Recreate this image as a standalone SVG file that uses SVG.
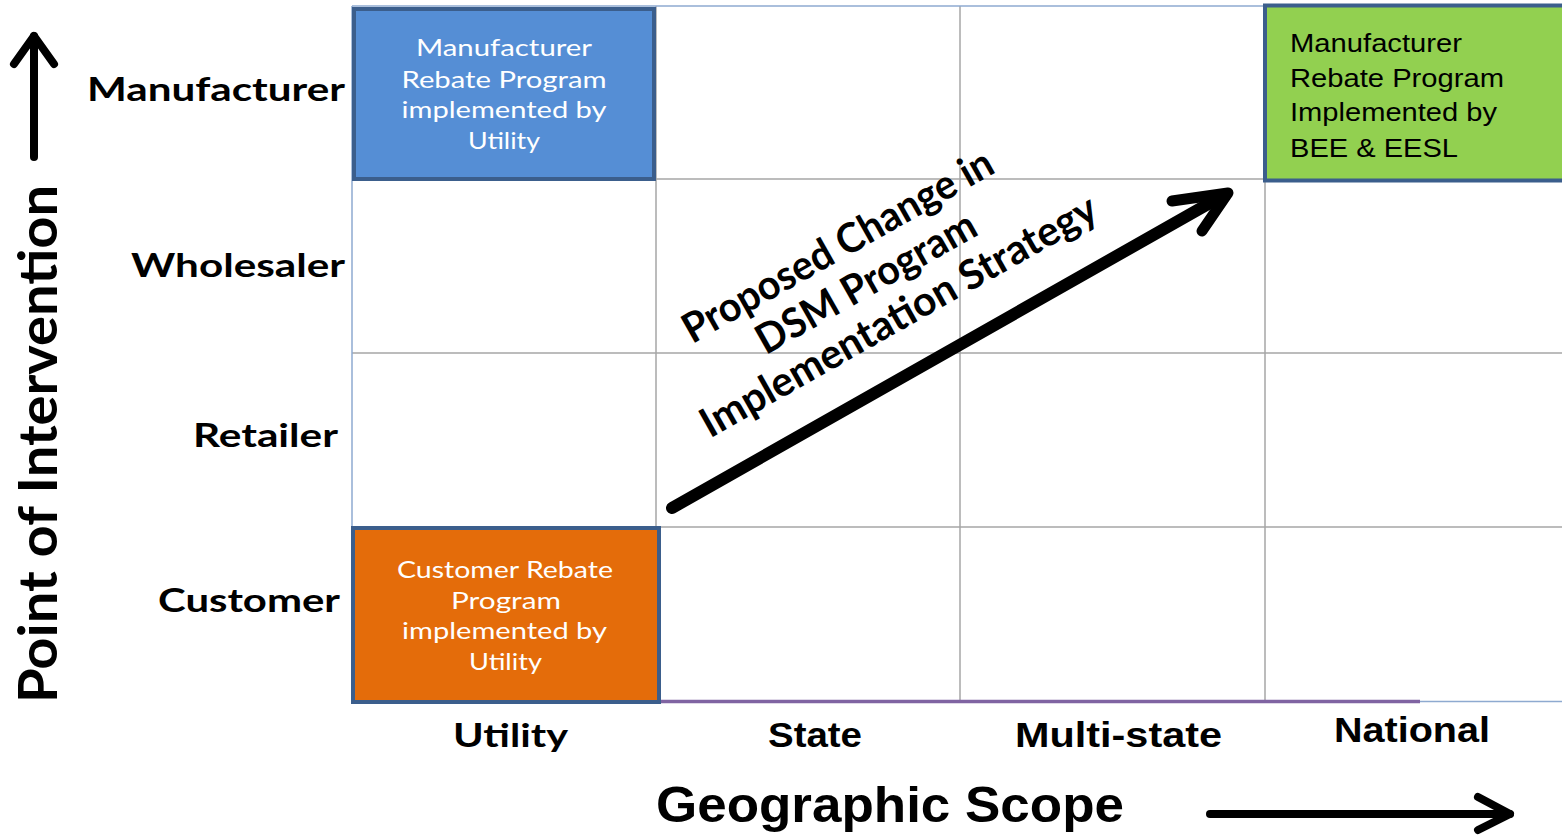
<svg xmlns="http://www.w3.org/2000/svg" width="1562" height="835" viewBox="0 0 1562 835">
  <style>
    .grid { stroke: #a6a6a6; stroke-width: 1.5; fill: none; }
    .edge { stroke: #8eaad0; stroke-width: 1.5; fill: none; }
    .box { stroke: #3b5e8c; stroke-width: 4; }
    .axis-lbl { font-family: Lato, "Open Sans", sans-serif; font-weight: 700; font-size: 32px; fill: #000; }
    .narrow { font-family: "Liberation Sans Narrow", "Liberation Sans", sans-serif; font-weight: 700; font-size: 35px; fill: #000; }
    .box-txt { font-family: Lato, "Open Sans", sans-serif; font-size: 23px; fill: #fff; text-anchor: middle; }
    .box-txt-dark { font-family: "Liberation Sans", Arial, sans-serif; font-size: 26.5px; fill: #000; }
    .diag { font-family: Lato, "Open Sans", sans-serif; font-weight: 700; font-size: 41px; fill: #000; text-anchor: middle; }
    .arrow { stroke: #000; fill: none; stroke-linecap: round; stroke-linejoin: round; }
  </style>

  <rect width="1562" height="835" fill="#fff"/>

  <!-- matrix grid -->
  <g id="grid">
    <line class="grid" x1="656" y1="6" x2="656" y2="701"/>
    <line class="grid" x1="960" y1="6" x2="960" y2="701"/>
    <line class="grid" x1="1265" y1="6" x2="1265" y2="701"/>
    <line class="grid" x1="352" y1="179" x2="1562" y2="179"/>
    <line class="grid" x1="352" y1="353" x2="1562" y2="353"/>
    <line class="grid" x1="352" y1="527" x2="1562" y2="527"/>
    <line class="edge" x1="352" y1="6" x2="1265" y2="6"/>
    <line class="edge" x1="352" y1="6" x2="352" y2="701"/>
    <line class="edge" x1="1420" y1="701.5" x2="1562" y2="701.5"/>
    <line x1="660" y1="701.5" x2="1420" y2="701.5" stroke="#8064a2" stroke-width="3.5"/>
  </g>

  <!-- row labels -->
  <g id="row-labels" text-anchor="end">
    <text class="axis-lbl" x="345" y="101" textLength="258" lengthAdjust="spacingAndGlyphs">Manufacturer</text>
    <text class="axis-lbl" x="345" y="277" textLength="214" lengthAdjust="spacingAndGlyphs">Wholesaler</text>
    <text class="axis-lbl" x="338" y="447" textLength="145" lengthAdjust="spacingAndGlyphs">Retailer</text>
    <text class="axis-lbl" x="340" y="612" textLength="182" lengthAdjust="spacingAndGlyphs">Customer</text>
  </g>

  <!-- column labels -->
  <g id="col-labels">
    <text class="axis-lbl" x="453" y="747" textLength="115" lengthAdjust="spacingAndGlyphs">Utility</text>
    <text class="narrow" x="768" y="747" textLength="94" lengthAdjust="spacingAndGlyphs">State</text>
    <text class="narrow" x="1015" y="747" textLength="207" lengthAdjust="spacingAndGlyphs">Multi-state</text>
    <text class="narrow" x="1334" y="742" textLength="156" lengthAdjust="spacingAndGlyphs">National</text>
  </g>

  <!-- axis titles -->
  <g id="y-axis-title">
    <text transform="translate(57,703) rotate(-90)" x="0" y="0" font-family="Lato, 'Open Sans', sans-serif" font-weight="700" font-size="54" textLength="518" lengthAdjust="spacingAndGlyphs">Point of Intervention</text>
  </g>
  <g id="x-axis-title">
    <text x="656" y="822" font-family="'Liberation Sans', Arial, sans-serif" font-weight="700" font-size="50" textLength="468" lengthAdjust="spacingAndGlyphs">Geographic Scope</text>
  </g>

  <!-- highlighted cells -->
  <g id="node-manufacturer-utility">
    <rect class="box" x="354" y="9" width="300" height="170" fill="#558ed5"/>
    <text class="box-txt" x="504" y="56" textLength="176" lengthAdjust="spacingAndGlyphs">Manufacturer</text>
    <text class="box-txt" x="504" y="88" textLength="205" lengthAdjust="spacingAndGlyphs">Rebate Program</text>
    <text class="box-txt" x="504" y="118" textLength="205" lengthAdjust="spacingAndGlyphs">implemented by</text>
    <text class="box-txt" x="504" y="149" textLength="72" lengthAdjust="spacingAndGlyphs">Utility</text>
  </g>

  <g id="node-customer-utility">
    <rect class="box" x="353" y="528" width="306" height="174" fill="#e46c0a"/>
    <text class="box-txt" x="505" y="578" textLength="216" lengthAdjust="spacingAndGlyphs">Customer Rebate</text>
    <text class="box-txt" x="506" y="609" textLength="110" lengthAdjust="spacingAndGlyphs">Program</text>
    <text class="box-txt" x="504.5" y="639" textLength="205" lengthAdjust="spacingAndGlyphs">implemented by</text>
    <text class="box-txt" x="505.5" y="670" textLength="73" lengthAdjust="spacingAndGlyphs">Utility</text>
  </g>

  <g id="node-manufacturer-national">
    <rect class="box" x="1265" y="5.5" width="310" height="175" fill="#92d050"/>
    <text class="box-txt-dark" x="1290" y="52" textLength="172" lengthAdjust="spacingAndGlyphs">Manufacturer</text>
    <text class="box-txt-dark" x="1290" y="87" textLength="214" lengthAdjust="spacingAndGlyphs">Rebate Program</text>
    <text class="box-txt-dark" x="1290" y="121" textLength="207" lengthAdjust="spacingAndGlyphs">Implemented by</text>
    <text class="box-txt-dark" x="1290" y="157" textLength="168" lengthAdjust="spacingAndGlyphs">BEE &amp; EESL</text>
  </g>

  <!-- arrows -->
  <g id="connectors">
    <polyline class="arrow" stroke-width="8" points="34,157 34,36"/>
    <polyline class="arrow" stroke-width="8" points="14,64 34,36 54,64"/>
    <polyline class="arrow" stroke-width="8" points="1210,814 1510,814"/>
    <polyline class="arrow" stroke-width="8" points="1478,797 1510,814 1478,830"/>
    <line class="arrow" stroke-width="12" stroke-linecap="butt" x1="672" y1="508" x2="1224" y2="195"/>
    <polyline class="arrow" stroke-width="11" points="1172,201 1228,193 1202,231"/>
  </g>

  <!-- diagonal caption -->
  <g id="strategy-label" transform="translate(868,286) rotate(-29.5)">
    <text class="diag" x="-6.7" y="-36" textLength="350" lengthAdjust="spacingAndGlyphs">Proposed Change in</text>
    <text class="diag" x="0" y="10" textLength="246" lengthAdjust="spacingAndGlyphs">DSM Program</text>
    <text class="diag" x="11.8" y="55" textLength="449" lengthAdjust="spacingAndGlyphs">Implementation Strategy</text>
  </g>
</svg>
